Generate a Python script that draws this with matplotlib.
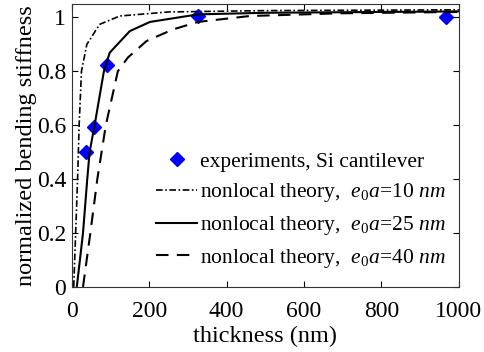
import matplotlib.pyplot as plt
from matplotlib import rcParams

rcParams['font.family'] = 'Liberation Serif'
rcParams['mathtext.fontset'] = 'custom'
rcParams['mathtext.rm'] = 'Liberation Serif'
rcParams['mathtext.it'] = 'Liberation Serif:italic'

# experiments, Si cantilever
exp_t = [38, 57, 91, 326, 968]
exp_k = [0.50, 0.592, 0.823, 1.005, 1.0]

# nonlocal theory, e0a = 10 nm
t10 = [5, 10, 15, 19, 25, 39, 72, 124, 250, 500, 1000]
k10 = [0.0, 0.2, 0.4, 0.6, 0.8, 0.9, 0.974, 1.005, 1.02, 1.025, 1.028]

# nonlocal theory, e0a = 25 nm
t25 = [13, 29, 40, 46, 59, 83, 98, 150, 202, 326, 500, 1000]
k25 = [0.0, 0.2, 0.4, 0.5, 0.6, 0.8, 0.869, 0.949, 0.983, 1.011, 1.017, 1.022]

# nonlocal theory, e0a = 40 nm
t40 = [29, 48, 66, 88, 119, 145, 193, 261, 326, 460, 692, 1000]
k40 = [0.0, 0.2, 0.4, 0.6, 0.8, 0.851, 0.912, 0.955, 0.983, 1.005, 1.015, 1.02]

fig = plt.figure(figsize=(4.85, 3.52), dpi=100)
ax = fig.add_axes([0.148, 0.185, 0.798, 0.804])

ax.plot(exp_t, exp_k, linestyle='None', marker='D', markersize=7.5,
        color='blue', label='experiments, Si cantilever')
ax.plot(t10, k10, color='black', lw=1.2, linestyle=(0, (4, 1.5, 1, 1.5)),
        label=r'nonlocal theory,  $e_{\mathit{0}}a\!=\!\mathit{10\ nm}$')
ax.plot(t25, k25, color='black', lw=1.5, linestyle='-',
        label=r'nonlocal theory,  $e_{\mathit{0}}a\!=\!\mathit{25\ nm}$')
ax.plot(t40, k40, color='black', lw=1.5, linestyle=(0, (6, 4)),
        label=r'nonlocal theory,  $e_{\mathit{0}}a\!=\!\mathit{40\ nm}$')

ax.set_xlim(0, 1000)
ax.set_ylim(0, 1.05)
ax.set_xticks([0, 200, 400, 600, 800, 1000])
ax.set_yticks([0, 0.2, 0.4, 0.6, 0.8, 1])
ax.set_yticklabels(['0', '0.2', '0.4', '0.6', '0.8', '1'])
ax.tick_params(direction='in', top=True, right=True, labelsize=17, length=4)
ax.tick_params(axis='x', pad=10)
ax.tick_params(axis='y', pad=4)
ax.set_xlabel('thickness (nm)', fontsize=17.5, labelpad=3)
ax.set_ylabel('normalized bending stiffness', fontsize=17.5, labelpad=0)
for s in ax.spines.values():
    s.set_color('#333333')

ax.legend(loc='lower right', bbox_to_anchor=(0.99, 0.03), frameon=False,
          fontsize=15.5, handlelength=1.9, handletextpad=0.15,
          labelspacing=0.45, borderaxespad=0.0)

fig.savefig('out.png', dpi=100)
